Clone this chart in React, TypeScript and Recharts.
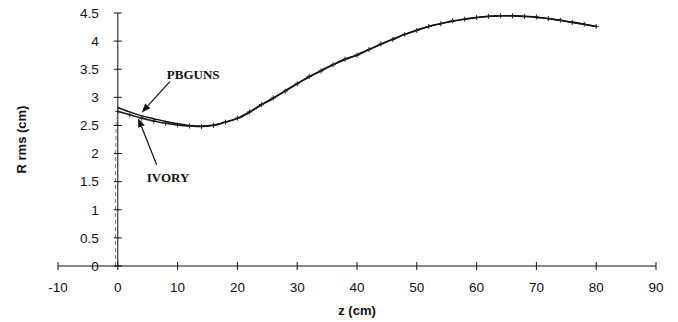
import { LineChart, Line, XAxis, YAxis, ReferenceLine, ReferenceDot } from 'recharts';

// R rms vs z — PBGUNS (solid) against IVORY (particle trace, + markers)

const Z_CM = [
  0, 2, 4, 6, 8, 10, 12, 14, 16, 18, 20, 22, 24, 26, 28, 30, 32, 34, 36, 38, 40,
  42, 44, 46, 48, 50, 52, 54, 56, 58, 60, 62, 64, 66, 68, 70, 72, 74, 76, 78, 80,
];
const PBGUNS_R = [
  2.82, 2.74, 2.67, 2.62, 2.57, 2.53, 2.5, 2.49, 2.51, 2.56, 2.62, 2.73, 2.86, 2.98, 3.12,
  3.25, 3.36, 3.48, 3.58, 3.67, 3.76, 3.85, 3.94, 4.04, 4.12, 4.2, 4.26, 4.31, 4.35, 4.39,
  4.42, 4.44, 4.45, 4.45, 4.44, 4.42, 4.4, 4.37, 4.34, 4.3, 4.26,
];
const IVORY_R = [
  2.75, 2.69, 2.63, 2.58, 2.54, 2.51, 2.49, 2.48, 2.5, 2.56, 2.63, 2.74, 2.87, 2.99, 3.11,
  3.24, 3.37, 3.47, 3.58, 3.68, 3.75, 3.85, 3.95, 4.03, 4.12, 4.19, 4.26, 4.31, 4.36, 4.39,
  4.42, 4.44, 4.45, 4.45, 4.44, 4.43, 4.4, 4.37, 4.33, 4.3, 4.26,
];
// emission rise of the IVORY beam at the cathode
const IVORY_RISE_Z = [-0.4, -0.4, -0.3, 0];
const IVORY_RISE_R = [0, 1.5, 2.5, 2.75];

const X_TICKS = [-10, 0, 10, 20, 30, 40, 50, 60, 70, 80, 90];
const Y_TICKS = [0, 0.5, 1, 1.5, 2, 2.5, 3, 3.5, 4, 4.5];

const W = 678;
const H = 322;
const Y_AXIS_W = 1;
const MARGIN = { top: 13, right: 22, left: 57, bottom: 26 };
const PLOT_LEFT = MARGIN.left + Y_AXIS_W;
const PLOT_W = W - PLOT_LEFT - MARGIN.right;
const X_MIN = -10;
const X_MAX = 90;
const Y_AXIS_PX = PLOT_LEFT + ((0 - X_MIN) / (X_MAX - X_MIN)) * PLOT_W;

const SANS = '"Liberation Sans", Arial, sans-serif';
const SERIF = '"Liberation Serif", "Times New Roman", serif';

const pbgunsData = Z_CM.map((z, i) => ({ z, r: PBGUNS_R[i] }));
const ivoryData = Z_CM.map((z, i) => ({ z, r: IVORY_R[i] }));
const riseData = IVORY_RISE_Z.map((z, i) => ({ z, r: IVORY_RISE_R[i] }));

function XTick(props: any) {
  const { x, y, payload } = props;
  return (
    <g>
      <line x1={x} x2={x} y1={y - 4} y2={y + 4} stroke="#111" strokeWidth={1} />
      <text x={x} y={y + 21} dy="0.35em" textAnchor="middle" fontFamily={SANS} fontSize={13.5} fill="#111">
        {payload.value}
      </text>
    </g>
  );
}

function YTick(props: any) {
  const { y, payload } = props;
  return (
    <g>
      <line x1={Y_AXIS_PX - 4} x2={Y_AXIS_PX + 4} y1={y} y2={y} stroke="#111" strokeWidth={1} />
      <text x={Y_AXIS_PX - 19} y={y} dy="0.35em" textAnchor="end" fontFamily={SANS} fontSize={13.5} fill="#111">
        {payload.value}
      </text>
    </g>
  );
}

function PlusDot(props: any) {
  const { cx, cy } = props;
  if (cx == null || cy == null) return null;
  return (
    <path d={`M${cx - 2.5},${cy}H${cx + 2.5}M${cx},${cy - 2.5}V${cy + 2.5}`} stroke="#222" strokeWidth={1} />
  );
}

function Arrow(props: any) {
  const { x1, y1, x2, y2 } = props;
  const a = Math.atan2(y2 - y1, x2 - x1);
  const len = 9;
  const wid = 3.5;
  const bx = x2 - len * Math.cos(a);
  const by = y2 - len * Math.sin(a);
  const px = -Math.sin(a) * wid;
  const py = Math.cos(a) * wid;
  return (
    <g>
      <line x1={x1} y1={y1} x2={bx} y2={by} stroke="#111" strokeWidth={1.2} />
      <polygon points={`${x2},${y2} ${bx + px},${by + py} ${bx - px},${by - py}`} fill="#111" />
    </g>
  );
}

function YLabel(props: any) {
  const { viewBox } = props;
  const cx = Y_AXIS_PX - 96;
  const cy = viewBox.y + viewBox.height / 2;
  return (
    <text
      x={cx}
      y={cy}
      transform={`rotate(-90 ${cx} ${cy})`}
      textAnchor="middle"
      dy="0.35em"
      fontFamily={SANS}
      fontWeight={700}
      fontSize={13}
      fill="#111"
    >
      R rms (cm)
    </text>
  );
}

const labelStyle = { fontFamily: SERIF, fontWeight: 700, fontSize: 13, fill: '#111' };

export default function App() {
  return (
    <div style={{ position: 'absolute', left: 0, top: 0, width: W, height: H, background: '#fff' }}>
      <LineChart width={W} height={H} margin={MARGIN}>
        <XAxis
          dataKey="z"
          type="number"
          domain={[X_MIN, X_MAX]}
          ticks={X_TICKS}
          interval={0}
          allowDataOverflow
          height={30}
          tickSize={0}
          tickMargin={0}
          tickLine={false}
          tick={<XTick />}
          axisLine={{ stroke: '#111', strokeWidth: 1 }}
          label={{
            value: 'z (cm)',
            position: 'bottom',
            offset: 10,
            style: { fontFamily: SANS, fontWeight: 700, fontSize: 13, fill: '#111' },
          }}
        />
        <YAxis
          type="number"
          domain={[0, 4.5]}
          ticks={Y_TICKS}
          interval={0}
          width={Y_AXIS_W}
          tickSize={0}
          tickMargin={0}
          tickLine={false}
          axisLine={false}
          tick={<YTick />}
          label={{ value: 'R rms (cm)', content: <YLabel /> }}
        />
        <ReferenceLine x={0} stroke="#111" strokeWidth={1} />
        <Line
          data={riseData}
          dataKey="r"
          type="linear"
          stroke="#777"
          strokeWidth={1}
          strokeDasharray="4 3"
          dot={false}
          isAnimationActive={false}
        />
        <Line
          data={ivoryData}
          dataKey="r"
          type="monotone"
          stroke="#222"
          strokeWidth={1.6}
          dot={<PlusDot />}
          isAnimationActive={false}
        />
        <Line
          data={pbgunsData}
          dataKey="r"
          type="monotone"
          stroke="#111"
          strokeWidth={1.4}
          dot={false}
          isAnimationActive={false}
        />
        <ReferenceLine segment={[{ x: 8.7, y: 3.28 }, { x: 4.0, y: 2.73 }]} shape={<Arrow />} />
        <ReferenceLine segment={[{ x: 6.5, y: 1.8 }, { x: 3.4, y: 2.63 }]} shape={<Arrow />} />
        <ReferenceDot x={12.6} y={3.4} r={0} fill="none" stroke="none" label={{ value: 'PBGUNS', position: 'center', style: labelStyle }} />
        <ReferenceDot x={8.4} y={1.57} r={0} fill="none" stroke="none" label={{ value: 'IVORY', position: 'center', style: labelStyle }} />
      </LineChart>
    </div>
  );
}
